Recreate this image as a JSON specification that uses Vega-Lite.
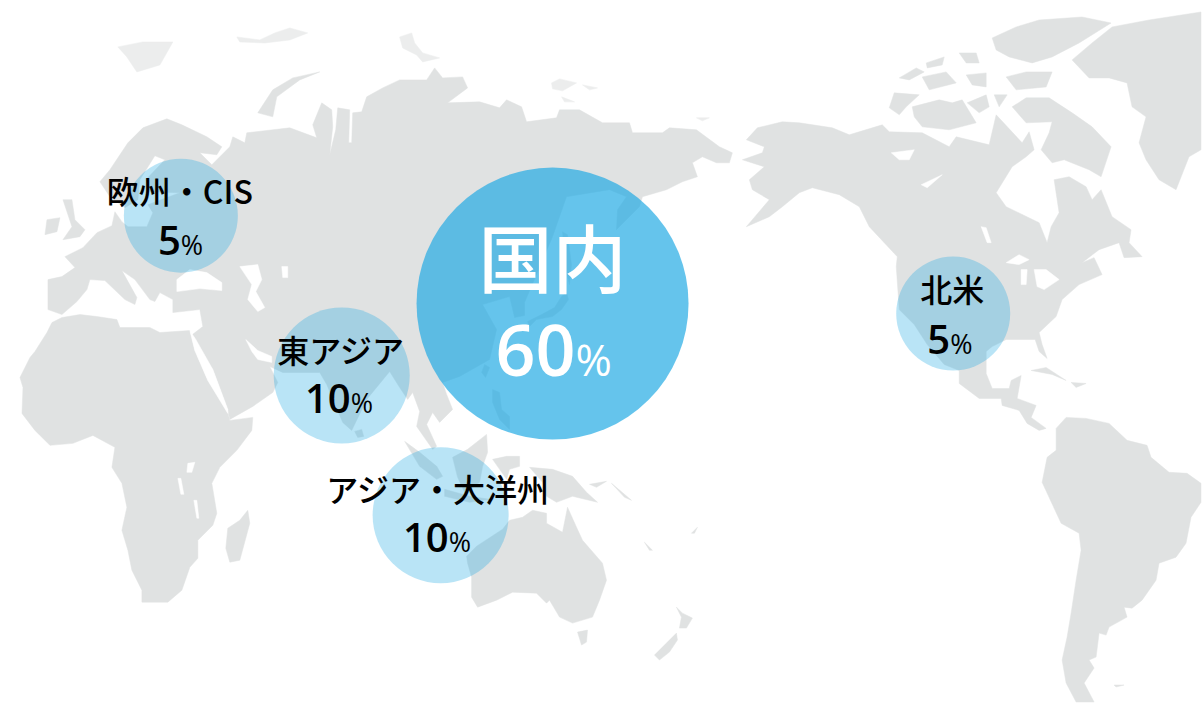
{"$schema":"https://vega.github.io/schema/vega-lite/v6.json","width":1202,"height":703,"autosize":{"type":"fit","contains":"padding"},"background":"#ffffff","padding":0,"view":{"stroke":null},
"datasets":{
"land":[
{"p":"eu","x":48,"y":310},{"p":"eu","x":48,"y":280},{"p":"eu","x":62,"y":277},{"p":"eu","x":75,"y":268},{"p":"eu","x":65,"y":257},{"p":"eu","x":83,"y":248},{"p":"eu","x":97,"y":233},{"p":"eu","x":112,"y":226},{"p":"eu","x":115,"y":212},{"p":"eu","x":122,"y":222},{"p":"eu","x":128,"y":227},{"p":"eu","x":147,"y":227},{"p":"eu","x":153,"y":213},{"p":"eu","x":148,"y":205},{"p":"eu","x":180,"y":193},{"p":"eu","x":150,"y":192},{"p":"eu","x":146,"y":180},{"p":"eu","x":165,"y":160},{"p":"eu","x":155,"y":156},{"p":"eu","x":140,"y":180},{"p":"eu","x":138,"y":200},{"p":"eu","x":125,"y":208},{"p":"eu","x":110,"y":197},{"p":"eu","x":100,"y":182},{"p":"eu","x":110,"y":170},{"p":"eu","x":128,"y":143},{"p":"eu","x":143,"y":128},{"p":"eu","x":167,"y":119},{"p":"eu","x":182,"y":125},{"p":"eu","x":207,"y":137},{"p":"eu","x":222,"y":147},{"p":"eu","x":217,"y":155},{"p":"eu","x":200,"y":153},{"p":"eu","x":212,"y":165},{"p":"eu","x":230,"y":147},{"p":"eu","x":233,"y":137},{"p":"eu","x":245,"y":143},{"p":"eu","x":247,"y":133},{"p":"eu","x":290,"y":128},{"p":"eu","x":317,"y":138},{"p":"eu","x":313,"y":125},{"p":"eu","x":322,"y":103},{"p":"eu","x":332,"y":110},{"p":"eu","x":333,"y":127},{"p":"eu","x":330,"y":155},{"p":"eu","x":336,"y":130},{"p":"eu","x":338,"y":108},{"p":"eu","x":350,"y":110},{"p":"eu","x":349,"y":143},{"p":"eu","x":352,"y":143},{"p":"eu","x":353,"y":113},{"p":"eu","x":362,"y":112},{"p":"eu","x":367,"y":97},{"p":"eu","x":383,"y":88},{"p":"eu","x":400,"y":80},{"p":"eu","x":427,"y":80},{"p":"eu","x":435,"y":68},{"p":"eu","x":443,"y":78},{"p":"eu","x":463,"y":77},{"p":"eu","x":468,"y":88},{"p":"eu","x":448,"y":103},{"p":"eu","x":480,"y":102},{"p":"eu","x":500,"y":108},{"p":"eu","x":507,"y":100},{"p":"eu","x":522,"y":107},{"p":"eu","x":527,"y":122},{"p":"eu","x":557,"y":118},{"p":"eu","x":560,"y":110},{"p":"eu","x":580,"y":110},{"p":"eu","x":603,"y":123},{"p":"eu","x":630,"y":123},{"p":"eu","x":633,"y":133},{"p":"eu","x":663,"y":133},{"p":"eu","x":670,"y":128},{"p":"eu","x":697,"y":130},{"p":"eu","x":720,"y":147},{"p":"eu","x":733,"y":153},{"p":"eu","x":730,"y":163},{"p":"eu","x":717,"y":163},{"p":"eu","x":703,"y":157},{"p":"eu","x":693,"y":163},{"p":"eu","x":698,"y":177},{"p":"eu","x":683,"y":182},{"p":"eu","x":667,"y":190},{"p":"eu","x":643,"y":197},{"p":"eu","x":640,"y":207},{"p":"eu","x":617,"y":230},{"p":"eu","x":618,"y":210},{"p":"eu","x":627,"y":197},{"p":"eu","x":610,"y":190},{"p":"eu","x":567,"y":197},{"p":"eu","x":553,"y":237},{"p":"eu","x":525,"y":303},{"p":"eu","x":525,"y":316},{"p":"eu","x":515,"y":318},{"p":"eu","x":510,"y":297},{"p":"eu","x":483,"y":305},{"p":"eu","x":497,"y":330},{"p":"eu","x":490,"y":360},{"p":"eu","x":460,"y":377},{"p":"eu","x":443,"y":383},{"p":"eu","x":447,"y":395},{"p":"eu","x":453,"y":410},{"p":"eu","x":440,"y":423},{"p":"eu","x":433,"y":413},{"p":"eu","x":427,"y":425},{"p":"eu","x":437,"y":447},{"p":"eu","x":433,"y":450},{"p":"eu","x":417,"y":427},{"p":"eu","x":420,"y":412},{"p":"eu","x":413,"y":393},{"p":"eu","x":408,"y":400},{"p":"eu","x":400,"y":388},{"p":"eu","x":390,"y":372},{"p":"eu","x":367,"y":400},{"p":"eu","x":352,"y":431},{"p":"eu","x":343,"y":423},{"p":"eu","x":327,"y":385},{"p":"eu","x":320,"y":373},{"p":"eu","x":283,"y":373},{"p":"eu","x":270,"y":367},{"p":"eu","x":278,"y":383},{"p":"eu","x":273,"y":393},{"p":"eu","x":253,"y":407},{"p":"eu","x":230,"y":420},{"p":"eu","x":228,"y":410},{"p":"eu","x":213,"y":370},{"p":"eu","x":195,"y":342},{"p":"eu","x":190,"y":337},{"p":"eu","x":203,"y":327},{"p":"eu","x":200,"y":310},{"p":"eu","x":173,"y":313},{"p":"eu","x":173,"y":300},{"p":"eu","x":160,"y":293},{"p":"eu","x":155,"y":302},{"p":"eu","x":150,"y":300},{"p":"eu","x":135,"y":280},{"p":"eu","x":122,"y":271},{"p":"eu","x":137,"y":298},{"p":"eu","x":135,"y":305},{"p":"eu","x":125,"y":300},{"p":"eu","x":105,"y":281},{"p":"eu","x":90,"y":280},{"p":"eu","x":87,"y":290},{"p":"eu","x":77,"y":302},{"p":"eu","x":62,"y":315},
{"p":"af","x":35,"y":352},{"p":"af","x":47,"y":333},{"p":"af","x":52,"y":323},{"p":"af","x":62,"y":318},{"p":"af","x":80,"y":315},{"p":"af","x":97,"y":317},{"p":"af","x":117,"y":320},{"p":"af","x":120,"y":328},{"p":"af","x":150,"y":328},{"p":"af","x":160,"y":333},{"p":"af","x":190,"y":331},{"p":"af","x":195,"y":351},{"p":"af","x":208,"y":381},{"p":"af","x":228,"y":413},{"p":"af","x":230,"y":421},{"p":"af","x":253,"y":418},{"p":"af","x":252,"y":431},{"p":"af","x":237,"y":451},{"p":"af","x":220,"y":468},{"p":"af","x":212,"y":484},{"p":"af","x":217,"y":514},{"p":"af","x":213,"y":526},{"p":"af","x":198,"y":541},{"p":"af","x":198,"y":559},{"p":"af","x":190,"y":568},{"p":"af","x":182,"y":591},{"p":"af","x":168,"y":603},{"p":"af","x":142,"y":603},{"p":"af","x":142,"y":591},{"p":"af","x":132,"y":571},{"p":"af","x":128,"y":551},{"p":"af","x":122,"y":531},{"p":"af","x":127,"y":508},{"p":"af","x":122,"y":484},{"p":"af","x":112,"y":468},{"p":"af","x":115,"y":448},{"p":"af","x":93,"y":436},{"p":"af","x":73,"y":444},{"p":"af","x":50,"y":446},{"p":"af","x":35,"y":431},{"p":"af","x":22,"y":414},{"p":"af","x":23,"y":388},{"p":"af","x":20,"y":378},{"p":"af","x":30,"y":358},
{"p":"mad","x":248,"y":511},{"p":"mad","x":250,"y":524},{"p":"mad","x":240,"y":561},{"p":"mad","x":230,"y":563},{"p":"mad","x":226,"y":549},{"p":"mad","x":228,"y":529},{"p":"mad","x":240,"y":521},
{"p":"nz1","x":258,"y":113},{"p":"nz1","x":273,"y":90},{"p":"nz1","x":293,"y":78},{"p":"nz1","x":320,"y":72},{"p":"nz1","x":300,"y":80},{"p":"nz1","x":277,"y":97},{"p":"nz1","x":273,"y":117},
{"p":"uk","x":63,"y":200},{"p":"uk","x":72,"y":200},{"p":"uk","x":75,"y":220},{"p":"uk","x":85,"y":230},{"p":"uk","x":80,"y":237},{"p":"uk","x":63,"y":240},{"p":"uk","x":72,"y":227},
{"p":"ie","x":47,"y":220},{"p":"ie","x":60,"y":218},{"p":"ie","x":57,"y":232},{"p":"ie","x":45,"y":235},
{"p":"sv","x":118,"y":47},{"p":"sv","x":143,"y":42},{"p":"sv","x":173,"y":42},{"p":"sv","x":160,"y":65},{"p":"sv","x":137,"y":72},{"p":"sv","x":127,"y":57},
{"p":"fj","x":237,"y":37},{"p":"fj","x":260,"y":40},{"p":"fj","x":275,"y":33},{"p":"fj","x":290,"y":28},{"p":"fj","x":308,"y":33},{"p":"fj","x":290,"y":40},{"p":"fj","x":265,"y":43},{"p":"fj","x":240,"y":42},
{"p":"sz","x":400,"y":37},{"p":"sz","x":412,"y":33},{"p":"sz","x":415,"y":43},{"p":"sz","x":423,"y":53},{"p":"sz","x":440,"y":58},{"p":"sz","x":423,"y":62},{"p":"sz","x":417,"y":55},{"p":"sz","x":403,"y":48},
{"p":"ns1","x":552,"y":83},{"p":"ns1","x":560,"y":79},{"p":"ns1","x":577,"y":83},{"p":"ns1","x":563,"y":91},{"p":"ns1","x":553,"y":89},
{"p":"ns2","x":583,"y":85},{"p":"ns2","x":598,"y":88},{"p":"ns2","x":590,"y":90},
{"p":"ns3","x":562,"y":97},{"p":"ns3","x":575,"y":102},{"p":"ns3","x":565,"y":102},
{"p":"wr","x":697,"y":118},{"p":"wr","x":710,"y":118},{"p":"wr","x":703,"y":121},
{"p":"sk","x":563,"y":232},{"p":"sk","x":568,"y":235},{"p":"sk","x":572,"y":265},{"p":"sk","x":570,"y":285},{"p":"sk","x":566,"y":270},
{"p":"jp","x":567,"y":293},{"p":"jp","x":569,"y":300},{"p":"jp","x":562,"y":310},{"p":"jp","x":553,"y":317},{"p":"jp","x":537,"y":320},{"p":"jp","x":530,"y":327},{"p":"jp","x":528,"y":322},{"p":"jp","x":542,"y":315},{"p":"jp","x":555,"y":308},{"p":"jp","x":562,"y":297},
{"p":"tw","x":485,"y":365},{"p":"tw","x":490,"y":368},{"p":"tw","x":486,"y":378},{"p":"tw","x":482,"y":373},
{"p":"ph","x":493,"y":390},{"p":"ph","x":500,"y":393},{"p":"ph","x":502,"y":410},{"p":"ph","x":510,"y":417},{"p":"ph","x":510,"y":430},{"p":"ph","x":500,"y":420},{"p":"ph","x":493,"y":403},
{"p":"sl","x":355,"y":432},{"p":"sl","x":362,"y":430},{"p":"sl","x":364,"y":437},{"p":"sl","x":358,"y":438},
{"p":"bo","x":453,"y":458},{"p":"bo","x":468,"y":450},{"p":"bo","x":487,"y":435},{"p":"bo","x":488,"y":453},{"p":"bo","x":483,"y":467},{"p":"bo","x":480,"y":483},{"p":"bo","x":465,"y":493},{"p":"bo","x":458,"y":478},
{"p":"su","x":405,"y":442},{"p":"su","x":420,"y":453},{"p":"su","x":437,"y":467},{"p":"su","x":443,"y":477},{"p":"su","x":437,"y":480},{"p":"su","x":420,"y":467},
{"p":"ja","x":445,"y":490},{"p":"ja","x":470,"y":497},{"p":"ja","x":490,"y":500},{"p":"ja","x":470,"y":503},{"p":"ja","x":445,"y":497},
{"p":"ce","x":493,"y":460},{"p":"ce","x":507,"y":457},{"p":"ce","x":520,"y":457},{"p":"ce","x":520,"y":467},{"p":"ce","x":510,"y":470},{"p":"ce","x":507,"y":480},
{"p":"ng","x":530,"y":468},{"p":"ng","x":553,"y":470},{"p":"ng","x":573,"y":477},{"p":"ng","x":587,"y":493},{"p":"ng","x":598,"y":503},{"p":"ng","x":573,"y":497},{"p":"ng","x":557,"y":503},{"p":"ng","x":547,"y":497},{"p":"ng","x":543,"y":483},
{"p":"nb","x":590,"y":485},{"p":"nb","x":607,"y":482},{"p":"nb","x":597,"y":488},
{"p":"so","x":612,"y":484},{"p":"so","x":632,"y":501},{"p":"so","x":625,"y":498},
{"p":"au","x":468,"y":564},{"p":"au","x":467,"y":557},{"p":"au","x":477,"y":547},{"p":"au","x":503,"y":530},{"p":"au","x":510,"y":521},{"p":"au","x":523,"y":518},{"p":"au","x":533,"y":511},{"p":"au","x":547,"y":514},{"p":"au","x":547,"y":524},{"p":"au","x":563,"y":533},{"p":"au","x":568,"y":508},{"p":"au","x":577,"y":528},{"p":"au","x":583,"y":541},{"p":"au","x":603,"y":564},{"p":"au","x":607,"y":581},{"p":"au","x":600,"y":601},{"p":"au","x":593,"y":618},{"p":"au","x":573,"y":624},{"p":"au","x":560,"y":618},{"p":"au","x":550,"y":601},{"p":"au","x":547,"y":604},{"p":"au","x":537,"y":594},{"p":"au","x":513,"y":593},{"p":"au","x":497,"y":601},{"p":"au","x":478,"y":608},{"p":"au","x":472,"y":598},{"p":"au","x":472,"y":578},
{"p":"ta","x":578,"y":633},{"p":"ta","x":588,"y":631},{"p":"ta","x":587,"y":643},{"p":"ta","x":582,"y":646},
{"p":"nn","x":677,"y":608},{"p":"nn","x":683,"y":614},{"p":"nn","x":693,"y":619},{"p":"nn","x":687,"y":629},{"p":"nn","x":680,"y":629},{"p":"nn","x":682,"y":618},
{"p":"ns","x":677,"y":634},{"p":"ns","x":667,"y":644},{"p":"ns","x":655,"y":656},{"p":"ns","x":660,"y":661},{"p":"ns","x":670,"y":653},{"p":"ns","x":678,"y":641},
{"p":"nc","x":645,"y":543},{"p":"nc","x":653,"y":551},{"p":"nc","x":650,"y":551},
{"p":"fi","x":692,"y":534},{"p":"fi","x":698,"y":528},{"p":"fi","x":695,"y":534},
{"p":"na","x":747,"y":140},{"p":"na","x":758,"y":128},{"p":"na","x":783,"y":122},{"p":"na","x":800,"y":123},{"p":"na","x":833,"y":128},{"p":"na","x":850,"y":135},{"p":"na","x":883,"y":125},{"p":"na","x":890,"y":132},{"p":"na","x":923,"y":133},{"p":"na","x":950,"y":147},{"p":"na","x":957,"y":137},{"p":"na","x":990,"y":145},{"p":"na","x":997,"y":115},{"p":"na","x":1023,"y":143},{"p":"na","x":1030,"y":132},{"p":"na","x":1035,"y":150},{"p":"na","x":1027,"y":157},{"p":"na","x":1013,"y":167},{"p":"na","x":997,"y":193},{"p":"na","x":1007,"y":207},{"p":"na","x":1040,"y":223},{"p":"na","x":1048,"y":243},{"p":"na","x":1052,"y":227},{"p":"na","x":1060,"y":213},{"p":"na","x":1055,"y":180},{"p":"na","x":1070,"y":177},{"p":"na","x":1087,"y":187},{"p":"na","x":1093,"y":200},{"p":"na","x":1102,"y":190},{"p":"na","x":1113,"y":217},{"p":"na","x":1132,"y":230},{"p":"na","x":1130,"y":243},{"p":"na","x":1143,"y":257},{"p":"na","x":1125,"y":258},{"p":"na","x":1120,"y":243},{"p":"na","x":1100,"y":250},{"p":"na","x":1083,"y":263},{"p":"na","x":1095,"y":258},{"p":"na","x":1103,"y":275},{"p":"na","x":1080,"y":285},{"p":"na","x":1063,"y":300},{"p":"na","x":1057,"y":317},{"p":"na","x":1040,"y":333},{"p":"na","x":1043,"y":345},{"p":"na","x":1048,"y":359},{"p":"na","x":1040,"y":352},{"p":"na","x":1036,"y":340},{"p":"na","x":1007,"y":340},{"p":"na","x":993,"y":347},{"p":"na","x":987,"y":352},{"p":"na","x":987,"y":374},{"p":"na","x":993,"y":389},{"p":"na","x":1010,"y":389},{"p":"na","x":1012,"y":381},{"p":"na","x":1022,"y":376},{"p":"na","x":1018,"y":399},{"p":"na","x":1037,"y":406},{"p":"na","x":1032,"y":418},{"p":"na","x":1047,"y":429},{"p":"na","x":1040,"y":431},{"p":"na","x":1028,"y":424},{"p":"na","x":1020,"y":411},{"p":"na","x":1003,"y":406},{"p":"na","x":1002,"y":399},{"p":"na","x":980,"y":399},{"p":"na","x":960,"y":384},{"p":"na","x":960,"y":371},{"p":"na","x":945,"y":365},{"p":"na","x":928,"y":345},{"p":"na","x":915,"y":325},{"p":"na","x":900,"y":310},{"p":"na","x":897,"y":267},{"p":"na","x":898,"y":257},{"p":"na","x":870,"y":227},{"p":"na","x":860,"y":207},{"p":"na","x":840,"y":195},{"p":"na","x":813,"y":188},{"p":"na","x":800,"y":193},{"p":"na","x":783,"y":207},{"p":"na","x":770,"y":217},{"p":"na","x":747,"y":227},{"p":"na","x":770,"y":200},{"p":"na","x":753,"y":190},{"p":"na","x":750,"y":180},{"p":"na","x":765,"y":167},{"p":"na","x":743,"y":160},{"p":"na","x":763,"y":153},{"p":"na","x":765,"y":147},
{"p":"bf","x":1013,"y":107},{"p":"bf","x":1027,"y":98},{"p":"bf","x":1050,"y":98},{"p":"bf","x":1073,"y":113},{"p":"bf","x":1093,"y":127},{"p":"bf","x":1112,"y":147},{"p":"bf","x":1102,"y":177},{"p":"bf","x":1090,"y":170},{"p":"bf","x":1065,"y":160},{"p":"bf","x":1053,"y":163},{"p":"bf","x":1042,"y":150},{"p":"bf","x":1050,"y":133},{"p":"bf","x":1053,"y":122},{"p":"bf","x":1027,"y":123},
{"p":"vi","x":913,"y":107},{"p":"vi","x":940,"y":100},{"p":"vi","x":953,"y":103},{"p":"vi","x":963,"y":100},{"p":"vi","x":977,"y":123},{"p":"vi","x":950,"y":130},{"p":"vi","x":923,"y":127},{"p":"vi","x":915,"y":117},
{"p":"bk","x":895,"y":93},{"p":"bk","x":920,"y":95},{"p":"bk","x":907,"y":107},{"p":"bk","x":900,"y":115},{"p":"bk","x":890,"y":108},
{"p":"sm","x":968,"y":103},{"p":"sm","x":987,"y":95},{"p":"sm","x":990,"y":107},{"p":"sm","x":980,"y":113},
{"p":"pw","x":995,"y":95},{"p":"pw","x":1008,"y":95},{"p":"pw","x":1000,"y":107},
{"p":"el","x":993,"y":38},{"p":"el","x":1017,"y":27},{"p":"el","x":1040,"y":20},{"p":"el","x":1083,"y":17},{"p":"el","x":1112,"y":23},{"p":"el","x":1080,"y":43},{"p":"el","x":1053,"y":57},{"p":"el","x":1033,"y":63},{"p":"el","x":1010,"y":57},{"p":"el","x":997,"y":50},
{"p":"dv","x":1007,"y":77},{"p":"dv","x":1027,"y":72},{"p":"dv","x":1053,"y":72},{"p":"dv","x":1047,"y":87},{"p":"dv","x":1017,"y":90},
{"p":"q1","x":923,"y":77},{"p":"q1","x":947,"y":72},{"p":"q1","x":957,"y":83},{"p":"q1","x":930,"y":90},
{"p":"q2","x":900,"y":78},{"p":"q2","x":917,"y":68},{"p":"q2","x":925,"y":72},{"p":"q2","x":910,"y":80},
{"p":"q3","x":967,"y":75},{"p":"q3","x":987,"y":73},{"p":"q3","x":987,"y":87},{"p":"q3","x":973,"y":85},
{"p":"q4","x":960,"y":53},{"p":"q4","x":977,"y":53},{"p":"q4","x":980,"y":63},{"p":"q4","x":967,"y":63},
{"p":"q5","x":927,"y":63},{"p":"q5","x":945,"y":57},{"p":"q5","x":943,"y":65},{"p":"q5","x":928,"y":68},
{"p":"gr","x":1073,"y":60},{"p":"gr","x":1093,"y":43},{"p":"gr","x":1113,"y":27},{"p":"gr","x":1150,"y":20},{"p":"gr","x":1202,"y":12},{"p":"gr","x":1202,"y":150},{"p":"gr","x":1190,"y":157},{"p":"gr","x":1177,"y":190},{"p":"gr","x":1160,"y":180},{"p":"gr","x":1147,"y":160},{"p":"gr","x":1140,"y":143},{"p":"gr","x":1147,"y":117},{"p":"gr","x":1133,"y":107},{"p":"gr","x":1128,"y":83},{"p":"gr","x":1110,"y":78},{"p":"gr","x":1090,"y":78},
{"p":"cu","x":1032,"y":371},{"p":"cu","x":1047,"y":368},{"p":"cu","x":1067,"y":381},{"p":"cu","x":1053,"y":375},
{"p":"hi","x":1072,"y":383},{"p":"hi","x":1087,"y":384},{"p":"hi","x":1077,"y":388},
{"p":"sa","x":1057,"y":429},{"p":"sa","x":1067,"y":418},{"p":"sa","x":1087,"y":419},{"p":"sa","x":1110,"y":424},{"p":"sa","x":1128,"y":441},{"p":"sa","x":1148,"y":446},{"p":"sa","x":1152,"y":458},{"p":"sa","x":1170,"y":473},{"p":"sa","x":1188,"y":474},{"p":"sa","x":1202,"y":484},{"p":"sa","x":1202,"y":503},{"p":"sa","x":1192,"y":518},{"p":"sa","x":1187,"y":544},{"p":"sa","x":1177,"y":558},{"p":"sa","x":1160,"y":564},{"p":"sa","x":1157,"y":581},{"p":"sa","x":1143,"y":601},{"p":"sa","x":1133,"y":609},{"p":"sa","x":1125,"y":608},{"p":"sa","x":1128,"y":618},{"p":"sa","x":1110,"y":628},{"p":"sa","x":1107,"y":636},{"p":"sa","x":1100,"y":634},{"p":"sa","x":1097,"y":658},{"p":"sa","x":1090,"y":661},{"p":"sa","x":1095,"y":669},{"p":"sa","x":1085,"y":684},{"p":"sa","x":1095,"y":703},{"p":"sa","x":1077,"y":703},{"p":"sa","x":1067,"y":684},{"p":"sa","x":1063,"y":661},{"p":"sa","x":1068,"y":638},{"p":"sa","x":1072,"y":614},{"p":"sa","x":1077,"y":581},{"p":"sa","x":1082,"y":551},{"p":"sa","x":1080,"y":534},{"p":"sa","x":1062,"y":524},{"p":"sa","x":1043,"y":483},{"p":"sa","x":1048,"y":458},{"p":"sa","x":1057,"y":451},
{"p":"fk","x":1115,"y":686},{"p":"fk","x":1125,"y":686},{"p":"fk","x":1117,"y":688}
],
"water":[
{"p":"bs","x":177,"y":280},{"p":"bs","x":190,"y":270},{"p":"bs","x":207,"y":273},{"p":"bs","x":222,"y":283},{"p":"bs","x":222,"y":291},{"p":"bs","x":200,"y":289},{"p":"bs","x":177,"y":292},
{"p":"cs","x":240,"y":267},{"p":"cs","x":258,"y":265},{"p":"cs","x":262,"y":280},{"p":"cs","x":256,"y":292},{"p":"cs","x":265,"y":308},{"p":"cs","x":258,"y":312},{"p":"cs","x":248,"y":300},{"p":"cs","x":252,"y":285},
{"p":"ar","x":282,"y":267},{"p":"ar","x":288,"y":267},{"p":"ar","x":288,"y":278},{"p":"ar","x":283,"y":278},
{"p":"pg","x":246,"y":340},{"p":"pg","x":252,"y":352},{"p":"pg","x":258,"y":360},{"p":"pg","x":272,"y":363},{"p":"pg","x":272,"y":357},{"p":"pg","x":258,"y":351},
{"p":"rs","x":190,"y":331},{"p":"rs","x":196,"y":340},{"p":"rs","x":213,"y":370},{"p":"rs","x":228,"y":410},{"p":"rs","x":228,"y":414},{"p":"rs","x":208,"y":381},{"p":"rs","x":195,"y":351},
{"p":"lv","x":188,"y":464},{"p":"lv","x":195,"y":463},{"p":"lv","x":192,"y":473},{"p":"lv","x":187,"y":473},
{"p":"lt","x":178,"y":479},{"p":"lt","x":181,"y":479},{"p":"lt","x":184,"y":495},{"p":"lt","x":181,"y":495},
{"p":"lm","x":194,"y":501},{"p":"lm","x":197,"y":501},{"p":"lm","x":199,"y":519},{"p":"lm","x":197,"y":519},
{"p":"su","x":1007,"y":263},{"p":"su","x":1020,"y":255},{"p":"su","x":1030,"y":260},{"p":"su","x":1020,"y":265},
{"p":"mi","x":1022,"y":270},{"p":"mi","x":1028,"y":270},{"p":"mi","x":1027,"y":285},{"p":"mi","x":1022,"y":285},
{"p":"hu","x":1035,"y":270},{"p":"hu","x":1047,"y":270},{"p":"hu","x":1060,"y":280},{"p":"hu","x":1045,"y":290},{"p":"hu","x":1038,"y":287},
{"p":"wi","x":982,"y":227},{"p":"wi","x":987,"y":228},{"p":"wi","x":992,"y":243},{"p":"wi","x":988,"y":243},
{"p":"gb","x":892,"y":153},{"p":"gb","x":915,"y":150},{"p":"gb","x":910,"y":160},{"p":"gb","x":900,"y":160},
{"p":"gs","x":922,"y":185},{"p":"gs","x":943,"y":175},{"p":"gs","x":928,"y":188}
],
"regions":[
{"region":"国内","share":60,"mapX":553,"mapY":304,"nameX":553,"nameY":287,"numX":576,"numY":377},
{"region":"欧州・CIS","share":5,"mapX":181,"mapY":216,"nameX":180,"nameY":204,"numX":181,"numY":255},
{"region":"東アジア","share":10,"mapX":342,"mapY":376,"nameX":341,"nameY":364,"numX":351,"numY":414},
{"region":"アジア・大洋州","share":10,"mapX":441,"mapY":516,"nameX":438,"nameY":503,"numX":449,"numY":553},
{"region":"北米","share":5,"mapX":954,"mapY":314,"nameX":953,"nameY":302,"numX":951,"numY":355}
]},
"layer":[
{"data":{"name":"land"},"mark":{"type":"line","fill":"#e0e2e2","stroke":"#e0e2e2","strokeWidth":0.5,"interpolate":"linear-closed"},"encoding":{"x":{"field":"x","type":"quantitative","scale":{"domain":[0,1202],"nice":false,"zero":false},"axis":null},"y":{"field":"y","type":"quantitative","scale":{"domain":[703,0],"nice":false,"zero":false},"axis":null},"detail":{"field":"p"},"order":{"value":null},"opacity":{"condition":{"test":"indexof(['sv','fj','sz','ns1','ns2','ns3','wr'],datum.p)>=0","value":0.6},"value":1}}},
{"data":{"name":"water"},"mark":{"type":"line","fill":"#ffffff","stroke":"#ffffff","strokeWidth":0.5,"interpolate":"linear-closed"},"encoding":{"x":{"field":"x","type":"quantitative","axis":null},"y":{"field":"y","type":"quantitative","axis":null},"detail":{"field":"p"},"order":{"value":null}}},
{"data":{"name":"regions"},"layer":[
{"mark":{"type":"point","filled":true,"shape":"circle","color":"#24abe4","strokeWidth":0},"encoding":{"x":{"field":"mapX","type":"quantitative","axis":null},"y":{"field":"mapY","type":"quantitative","axis":null},"size":{"field":"share","type":"quantitative","legend":null,"scale":{"domain":[5,10,60],"range":[12996,18496,73984]}},"opacity":{"condition":{"test":"datum.share==60","value":0.7},"value":0.32}}},
{"mark":{"type":"text","font":"Noto Sans CJK JP","fontWeight":500,"align":"center","baseline":"alphabetic"},"encoding":{"x":{"field":"nameX","type":"quantitative","axis":null},"y":{"field":"nameY","type":"quantitative","axis":null},"text":{"field":"region"},"size":{"condition":{"test":"datum.share==60","value":74},"value":32},"color":{"condition":{"test":"datum.share==60","value":"#ffffff"},"value":"#000000"}}},
{"mark":{"type":"text","font":"Open Sans","fontWeight":600,"align":"right","baseline":"alphabetic"},"encoding":{"x":{"field":"numX","type":"quantitative","axis":null},"y":{"field":"numY","type":"quantitative","axis":null},"text":{"field":"share"},"size":{"condition":{"test":"datum.share==60","value":70},"value":40},"color":{"condition":{"test":"datum.share==60","value":"#ffffff"},"value":"#000000"}}},
{"mark":{"type":"text","font":"Open Sans","fontWeight":500,"align":"left","baseline":"alphabetic","text":"%"},"encoding":{"x":{"field":"numX","type":"quantitative","axis":null},"y":{"field":"numY","type":"quantitative","axis":null},"size":{"condition":{"test":"datum.share==60","value":44},"value":27},"color":{"condition":{"test":"datum.share==60","value":"#ffffff"},"value":"#000000"}}}
]}
]}
